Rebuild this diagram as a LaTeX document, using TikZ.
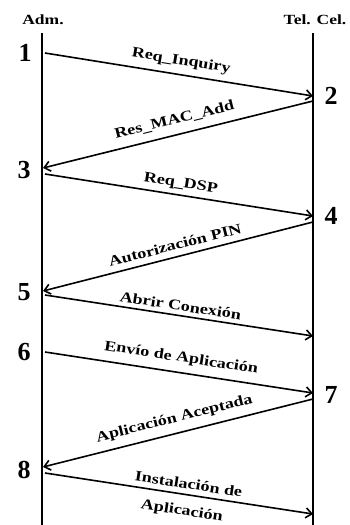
\documentclass[tikz,border=0pt]{standalone}
\usepackage{fontspec}
\setmainfont{Liberation Serif}
\newfontfamily\msgfont{Liberation Serif Bold}[FakeStretch=1.25]
\usetikzlibrary{positioning,arrows.meta}

\begin{document}
\begin{tikzpicture}[x=1pt,y=-1pt,
    msg/.style={-{Straight Barb[length=6pt,width=10pt]},line width=1.6pt},
    life/.style={line width=1.6pt},
    lbl/.style={font=\msgfont\fontsize{14.5}{15}\selectfont,sloped,inner sep=1pt},
    num/.style={font=\bfseries\fontsize{26}{26}\selectfont,inner sep=0pt},
    head/.style={font=\msgfont\fontsize{14}{15}\selectfont,inner sep=0pt}]
    \useasboundingbox (0,0) rectangle (349,525);

    % Participants
    \node[head] (adm) at (43,20) {Adm.};
    \node[head] (tel) at (315,20) {Tel. Cel.};
    \draw[life] (42,33) -- (42,525);
    \draw[life] (313,33) -- (313,525);

    % Points on the lifelines
    \coordinate (p1) at (45,53);
    \coordinate (p2) at (313,96);
    \coordinate (p2s) at (313,101);
    \coordinate (p3) at (43,168);
    \coordinate (p3s) at (45,174);
    \coordinate (p4) at (313,216);
    \coordinate (p4s) at (313,222);
    \coordinate (p5) at (43,291);
    \coordinate (p5s) at (45,295);
    \coordinate (p6e) at (313,336);
    \coordinate (p6) at (45,352);
    \coordinate (p7) at (313,393);
    \coordinate (p7s) at (313,399);
    \coordinate (p8) at (43,467);
    \coordinate (p8s) at (45,473);
    \coordinate (p9) at (313,514);

    % Step numbers
    \node[num] (n1) at (25,53) {1};
    \node[num] (n2) at (331,96) {2};
    \node[num] (n3) at (24,170) {3};
    \node[num] (n4) at (331,216) {4};
    \node[num] (n5) at (24,292) {5};
    \node[num] (n6) at (24,352) {6};
    \node[num] (n7) at (331,395) {7};
    \node[num] (n8) at (24,470) {8};

    % Messages
    \draw[msg] (p1) -- node[lbl,above=5pt] {Req\_Inquiry} (p2);
    \draw[msg] (p2s) -- node[lbl,above=7pt] {Res\_MAC\_Add} (p3);
    \draw[msg] (p3s) -- node[lbl,above=3pt] {Req\_DSP} (p4);
    \draw[msg] (p4s) -- node[lbl,above=5pt] {Autorización PIN} (p5);
    \draw[msg] (p5s) -- node[lbl,above=3pt] {Abrir Conexión} (p6e);
    \draw[msg] (p6) -- node[lbl,above=6pt] {Envío de Aplicación} (p7);
    \draw[msg] (p7s) -- node[lbl,above=6pt] {Aplicación Aceptada} (p8);
    \draw[msg] (p8s) -- node[lbl,above=4pt,pos=0.53] {Instalación de}
        node[lbl,below=9pt,pos=0.52] {Aplicación} (p9);
\end{tikzpicture}
\end{document}
